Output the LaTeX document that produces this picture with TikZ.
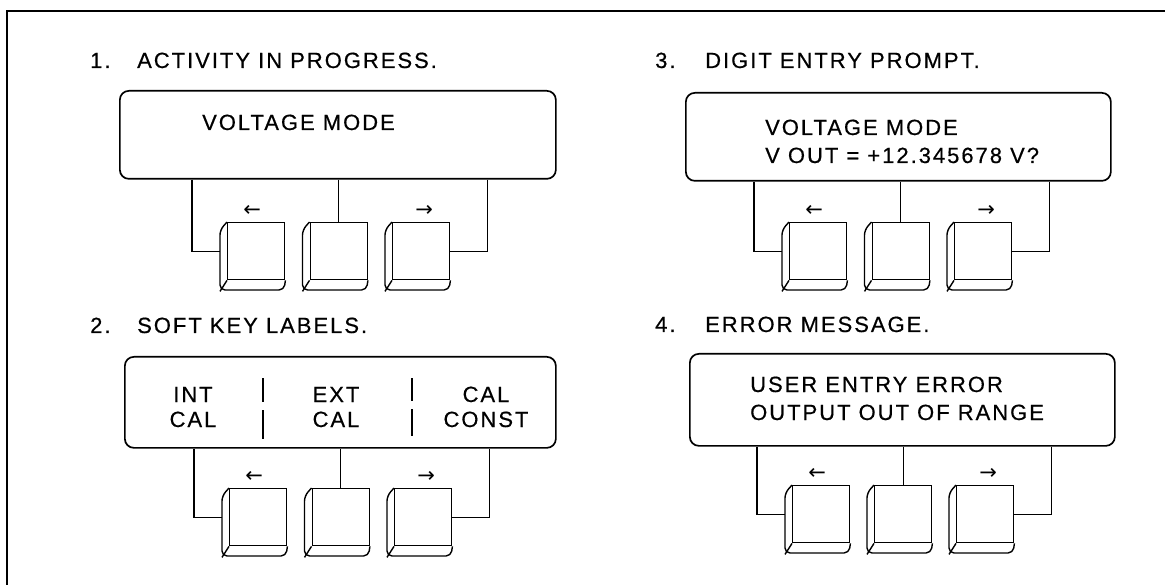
\documentclass[tikz,border=0pt]{standalone}
\usepackage{fontspec}
\newfontfamily\dispfont{Liberation Sans}[LetterSpace=9,FakeBold=0.5]
\newfontfamily\arrowfont{DejaVu Sans}
\usetikzlibrary{calc}
\tikzset{
  frameline/.style={line width=1.8pt},
  dispbox/.style={draw, line width=1.7pt, rounded corners=9pt, inner sep=0pt, anchor=north west},
  keyface/.style={draw, line width=1.4pt, inner sep=0pt, minimum width=57pt, minimum height=57pt, anchor=north west},
  keyline/.style={line width=1.4pt, line join=round},
  conn/.style={line width=1.1pt},
  txt/.style={font=\dispfont\fontsize{22}{26}\selectfont, inner sep=0pt, anchor=base west},
  ctxt/.style={txt, anchor=base},
  lbl/.style={font=\arrowfont\fontsize{21}{24}\selectfont, inner sep=0pt},
  sep/.style={line width=1.2pt}
}
\newcommand\softkey[3]{%
  \node[keyface] (#1) at (#2+7,#3) {};
  \draw[keyline, rounded corners=5pt] (#1.north west) -- ++(-7,8) -- ++(0,60) -- ++(64,0) -- (#1.south east);
  \draw[keyline] (#1.south west) -- ++(-7,11);
}
\newcommand\keyrow[5]{% #1 box, #2 prefix, #3 X1, #4 spacing, #5 Y
  \softkey{#2a}{#3}{#5}
  \softkey{#2b}{#3+#4}{#5}
  \softkey{#2c}{#3+2*#4}{#5}
  \draw[conn] ($(#1.south -| #2a.west)+(-35,0)$) |- ($(#2a.west)+(-7,0)$);
  \draw[conn] (#1.south -| #2b.north) -- (#2b.north);
  \draw[conn] ($(#1.south -| #2c.east)+(37,0)$) |- (#2c.east);
  \node[lbl] (#2la) at ($(#2a.north)+(-4,-11)$) {←};
  \node[lbl] (#2lc) at ($(#2c.north)+(3,-11)$) {→};
}
\begin{document}
\begin{tikzpicture}[x=1pt,y=-1pt]
\useasboundingbox (0,0) rectangle (1165,585);
\draw[frameline] (1166,11) -- (7,11) -- (7,586);

% Panel 1
\node[txt] (n1) at (90,68) {1.};
\node[txt] (t1) at (137,68) {ACTIVITY IN PROGRESS.};
\node[dispbox, minimum width=436pt, minimum height=88pt] (b1) at (119,90) {};
\node[txt] (d1a) at (202,130) {VOLTAGE MODE};
\keyrow{b1}{ka}{220}{82.5}{222}

% Panel 3
\node[txt] (n3) at (655,68) {3.};
\node[txt] (t3) at (705,68) {DIGIT ENTRY PROMPT.};
\node[dispbox, minimum width=425pt, minimum height=88pt] (b3) at (685,92) {};
\node[txt] (d3a) at (765,135) {VOLTAGE MODE};
\node[txt] (d3b) at (765,163) {V OUT = +12.345678 V?};
\keyrow{b3}{kc}{782}{82.5}{222}

% Panel 2
\node[txt] (n2) at (90,333) {2.};
\node[txt] (t2) at (137,333) {SOFT KEY LABELS.};
\node[dispbox, minimum width=431pt, minimum height=91pt] (b2) at (124,356) {};
\node[ctxt] (d2a) at (193,402) {INT};
\node[ctxt] (d2b) at (193,427) {CAL};
\node[ctxt] (d2c) at (336,402) {EXT};
\node[ctxt] (d2d) at (336,427) {CAL};
\node[ctxt] (d2e) at (486,402) {CAL};
\node[ctxt] (d2f) at (486,427) {CONST};
\draw[sep] (263,378) -- (263,402);
\draw[sep] (263,410) -- (263,439);
\draw[sep] (412,378) -- (412,401);
\draw[sep] (412,409) -- (412,436);
\keyrow{b2}{kb}{222}{82.5}{488}

% Panel 4
\node[txt] (n4) at (655,332) {4.};
\node[txt] (t4) at (705,332) {ERROR MESSAGE.};
\node[dispbox, minimum width=425pt, minimum height=92pt] (b4) at (689,353) {};
\node[txt] (d4a) at (750,392) {USER ENTRY ERROR};
\node[txt] (d4b) at (750,420) {OUTPUT OUT OF RANGE};
\keyrow{b4}{kd}{785}{82}{485}
\end{tikzpicture}
\end{document}
